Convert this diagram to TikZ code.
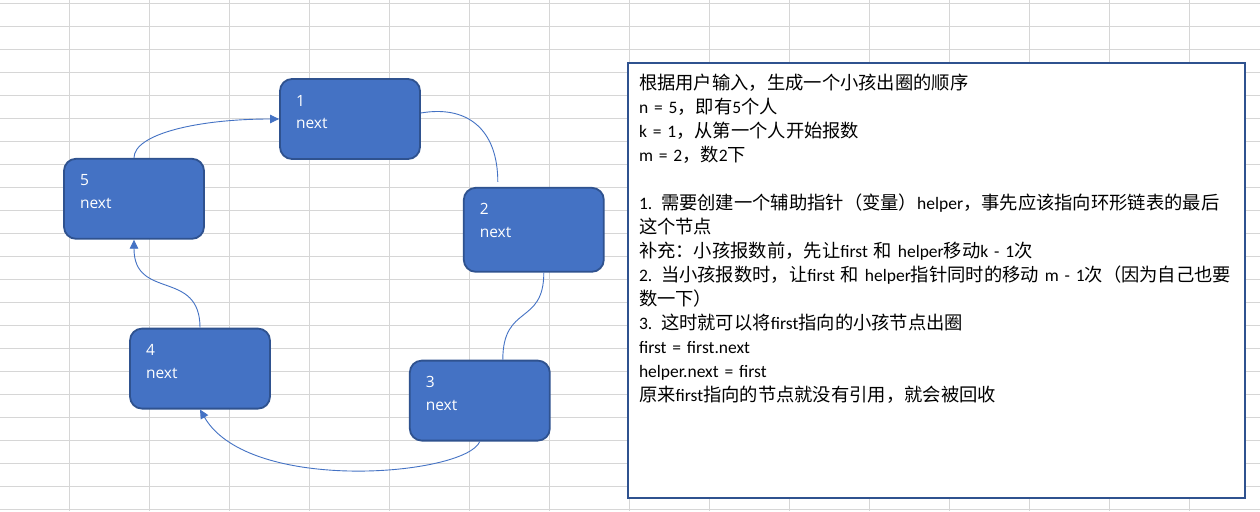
\documentclass[tikz,border=0pt]{standalone}
\usepackage{fontspec}
\setmainfont{Open Sans}
\newfontfamily\cjk{Noto Sans CJK SC}
\newfontfamily\notefont{Carlito}
\newcommand\zh[1]{{\cjk\fontsize{18.3}{24}\selectfont #1}}
\usetikzlibrary{arrows.meta,positioning}

\definecolor{nodeblue}{HTML}{4472C4}
\definecolor{edgeblue}{HTML}{2F528F}
\definecolor{gridgray}{HTML}{D6D6D6}

\begin{document}
\begin{tikzpicture}[
    x=1pt, y=-1pt,
    cell/.style={draw=edgeblue, line width=1.8pt, fill=nodeblue, rounded corners=12pt, text=white,
        font=\fontsize{15.5}{22.5}\selectfont, align=left, text width=108pt,
        inner xsep=16pt, inner ysep=16pt, text height=11pt, text depth=37pt},
    notebox/.style={anchor=north west, draw=edgeblue, line width=2pt, fill=white,
        font=\notefont\fontsize{17.5}{24}\selectfont, align=left, text width=594.7pt,
        inner xsep=11pt, inner ysep=0pt, text height=26.3pt, text depth=409pt},
    link/.style={draw=nodeblue, line width=0.9pt},
    arrow/.style={link, -{Triangle[length=9pt, width=8.5pt]}}
]
\useasboundingbox (0,0) rectangle (1260,511);
\fill[white] (0,0) rectangle (1260,511);
\foreach \gx in {0,...,14}
    \draw[gridgray, line width=0.9pt] (69.3+80*\gx,0) -- (69.3+80*\gx,511);
\foreach \gy in {0,...,22}
    \draw[gridgray, line width=0.9pt] (0,3.3+23*\gy) -- (1260,3.3+23*\gy);

\node[cell] (n1) at (350,119) {1\\next};
\node[cell, text depth=41pt, below right=27pt and 42pt of n1] (n2) {2\\next};
\node[cell, below=87pt of n2, xshift=-54pt] (n3) {3\\next};
\node[cell, left=138pt of n3, yshift=32pt] (n4) {4\\next};
\node[cell, above=88pt of n4, xshift=-66pt] (n5) {5\\next};

\draw[arrow] (n5.north) .. controls +(0,-24) and +(-81,0) .. (n1.west);
\draw[link] ([yshift=6pt]n1.east) .. controls +(46,-8) and +(0,-53) .. ([xshift=-36pt, yshift=5pt]n2.north);
\draw[link] ([xshift=10pt]n2.south) .. controls +(0,53) and +(0,-56) .. ([xshift=23pt]n3.north);
\draw[arrow] (n3.south) .. controls +(-14,34) and +(49,85) .. (n4.south);
\draw[arrow] (n4.north) .. controls +(0,-59) and +(0,61) .. (n5.south);

\node[notebox] (note) at (627,61.7) {\zh{根据用户输入，生成一个小孩出圈的顺序}\\
n = 5\zh{，即有}5\zh{个人}\\
k = 1\zh{，从第一个人开始报数}\\
m = 2\zh{，数}2\zh{下}\\[24pt]
1. \zh{需要创建一个辅助指针（变量）}helper\zh{，事先应该指向环形链表的最后}\\
\zh{这个节点}\\
\zh{补充：小孩报数前，先让}first \zh{和} helper\zh{移动}k - 1\zh{次}\\
2. \zh{当小孩报数时，让}first \zh{和} helper\zh{指针同时的移动} m - 1\zh{次（因为自己也要}\\
\zh{数一下）}\\
3. \zh{这时就可以将}first\zh{指向的小孩节点出圈}\\
first = first.next\\
helper.next = first\\
\zh{原来}first\zh{指向的节点就没有引用，就会被回收}};
\end{tikzpicture}
\end{document}
